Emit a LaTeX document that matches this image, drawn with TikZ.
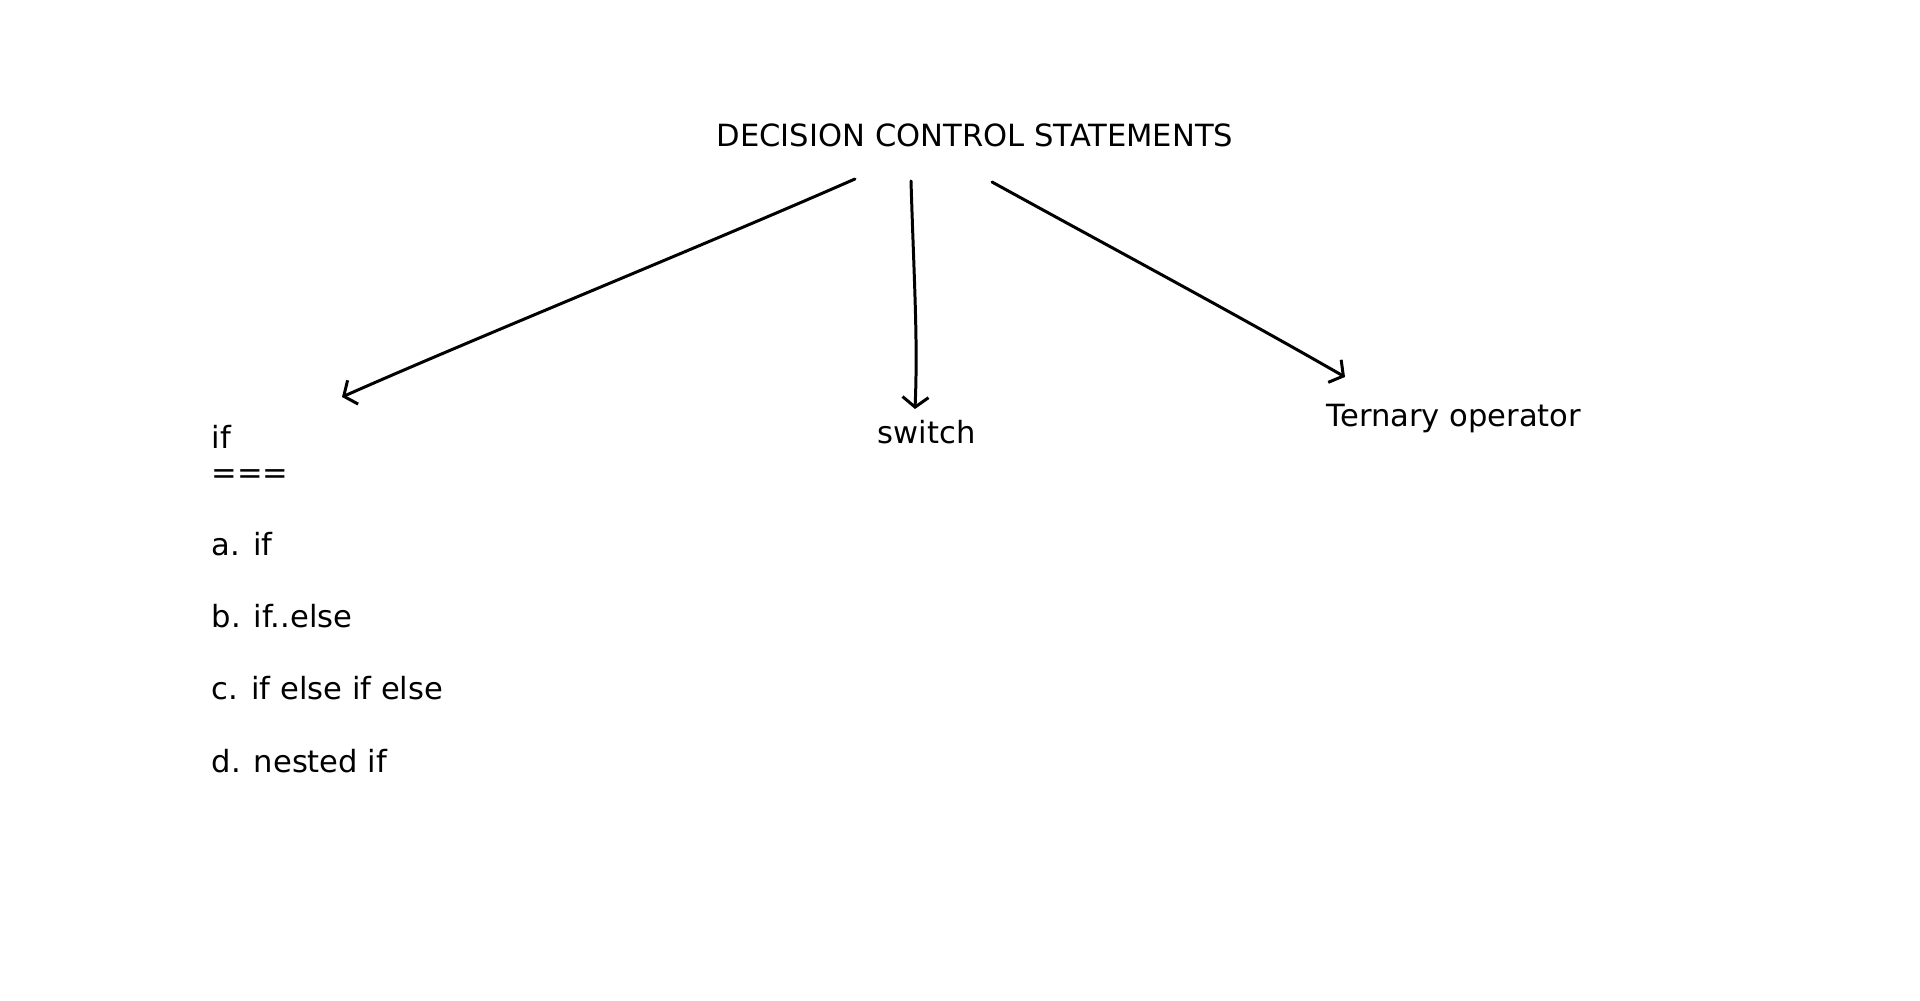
\documentclass[tikz,border=0pt]{standalone}
\usepackage{fontspec}
\setmainfont{DejaVu Sans}
\usetikzlibrary{arrows.meta}
\tikzstyle{heading} = [
    inner sep=0pt, anchor=base,
    font=\fontsize{8.7}{10}\selectfont
]
\tikzstyle{label} = [
    inner sep=0pt, anchor=base west,
    font=\fontsize{8.7}{10}\selectfont
]
\tikzstyle{arrow} = [line width=0.85pt, line cap=round, line join=round,
    -{Straight Barb[length=1mm, width=2.6mm, line width=0.85pt]}]

\begin{document}
\begin{tikzpicture}[x=0.01cm, y=-0.01cm]
        \useasboundingbox (0,0) rectangle (1920,1001);
        % Draw text
        \node (title) [heading] at (975,147) {DECISION CONTROL STATEMENTS};
        \node (ifhead) [label] at (211,449) {if};
        \node (rule) [label] at (211,484) {===};
        \node (ia) [label] at (211,556) {a. if};
        \node (ib) [label] at (211,628) {b. if..else};
        \node (ic) [label] at (211,700) {c. if else if else};
        \node (id) [label] at (211,773) {d. nested if};
        \node (switch) [label] at (877,444) {switch};
        \node (ternary) [label] at (1326,427) {Ternary operator};

        % Arrow ends
        \coordinate (lstart) at (855,179);
        \coordinate (mstart) at (911,181);
        \coordinate (rstart) at (992,182);
        \coordinate (ltip) at (342,397);
        \coordinate (mtip) at (915,409);
        \coordinate (rtip) at (1345,377);

        % Draw arrows
        \draw [arrow] (lstart) .. controls (700,247) and (480,336) .. (ltip);
        \draw [arrow] (mstart) .. controls (914,280) and (918,340) .. (mtip);
        \draw [arrow] (rstart) .. controls (1110,247) and (1230,311) .. (rtip);
    \end{tikzpicture}
\end{document}
